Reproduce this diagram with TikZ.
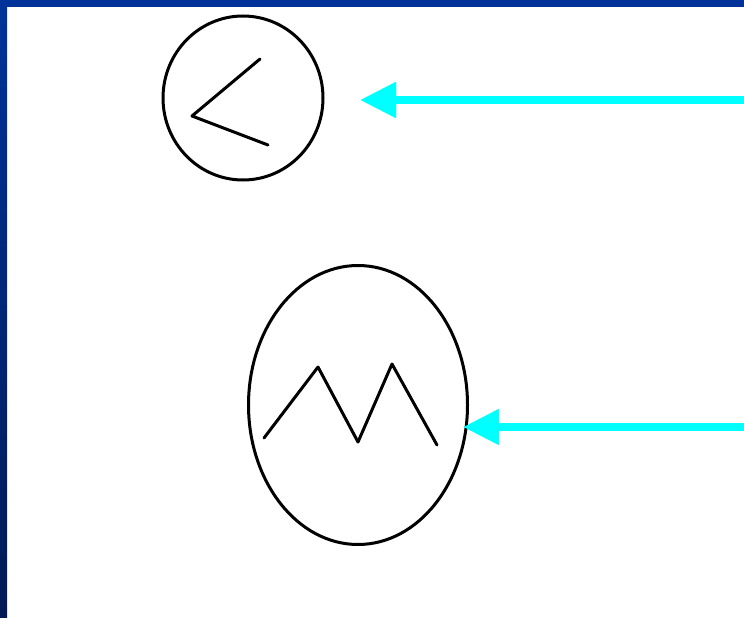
\documentclass[tikz,border=0pt]{standalone}
\usetikzlibrary{arrows.meta,shapes.geometric}
\definecolor{frameblue}{HTML}{003399}
\definecolor{framedark}{HTML}{001A55}
\definecolor{pointer}{HTML}{00FFFF}
\begin{document}
\begin{tikzpicture}[x=1pt,y=-1pt,
  outline/.style={draw=black,line width=3pt},
  glyph/.style={draw=black,line width=3pt,line join=round,line cap=round},
  pointerarrow/.style={draw=pointer,line width=8pt,
    -{Triangle[length=36pt,width=34pt,fill=pointer]}}]
  \useasboundingbox (0,0) rectangle (744,618);
  \fill[white] (0,0) rectangle (744,618);
  % frame bars
  \shade[top color=frameblue,bottom color=framedark] (0,0) rectangle (7,618);
  \fill[frameblue] (0,0) rectangle (744,7);
  % upper symbol: circle with an angle
  \node[outline,ellipse,minimum width=160pt,minimum height=164pt,inner sep=0pt] (top) at (243,98) {};
  \draw[glyph] (260,59) -- (192,116) -- (268,145);
  % lower symbol: ellipse with a zigzag
  \node[outline,ellipse,minimum width=219pt,minimum height=279pt,inner sep=0pt] (bottom) at (358,405) {};
  \draw[glyph] (264,438) -- (318,367) -- (358,442) -- (392,364) -- (437,445);
  % pointers
  \coordinate (p1start) at (744,100);
  \coordinate (p1end) at (360,100);
  \coordinate (p2start) at (744,427);
  \coordinate (p2end) at (463,427);
  \draw[pointerarrow] (p1start) -- (p1end);
  \draw[pointerarrow] (p2start) -- (p2end);
\end{tikzpicture}
\end{document}
